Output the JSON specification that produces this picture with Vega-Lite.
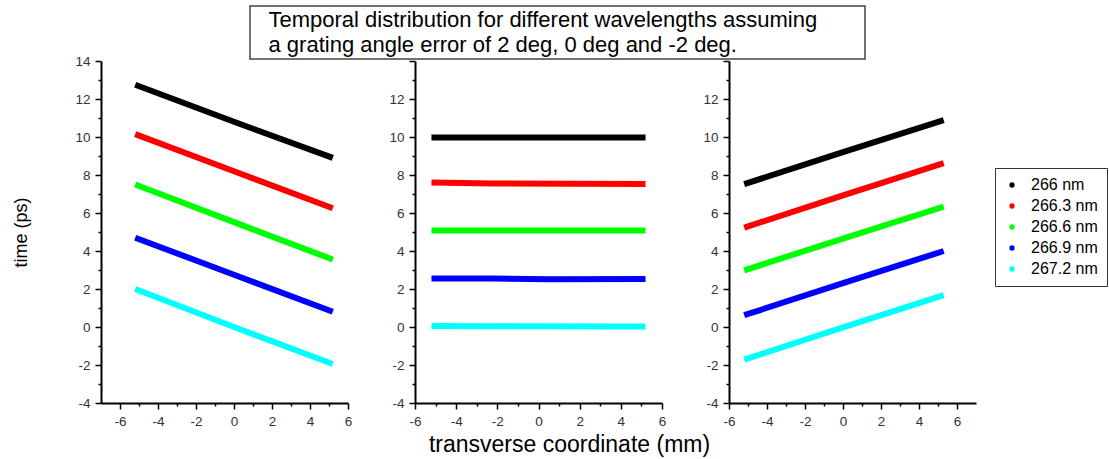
{
  "$schema": "https://vega.github.io/schema/vega-lite/v6.json",
  "padding": {"left": 12, "top": 5, "right": 0, "bottom": 0},
  "background": "white",
  "config": {
    "view": {"stroke": null},
    "font": "Liberation Sans",
    "axis": {
      "domainColor": "#000",
      "domainWidth": 2,
      "tickColor": "#000",
      "tickWidth": 1.5,
      "grid": false,
      "labelFont": "Liberation Sans",
      "labelFontSize": 13.5,
      "labelColor": "#333",
      "labelPadding": 5,
      "labelFlush": false,
      "labelOverlap": false,
      "titleFont": "Liberation Sans",
      "titleFontWeight": "normal",
      "titleColor": "#000"
    }
  },
  "datasets": {
    "heading": [
      {"line": 1, "text": "Temporal distribution for different wavelengths assuming"},
      {"line": 2, "text": "a grating angle error of 2 deg, 0 deg and -2 deg."}
    ],
    "lines": [
      {"panel": "A", "wl": "266 nm", "x": -5.2, "t": 12.75},
      {"panel": "A", "wl": "266 nm", "x": 0, "t": 10.8},
      {"panel": "A", "wl": "266 nm", "x": 5.2, "t": 8.9},
      {"panel": "A", "wl": "266.3 nm", "x": -5.2, "t": 10.15},
      {"panel": "A", "wl": "266.3 nm", "x": 0, "t": 8.2},
      {"panel": "A", "wl": "266.3 nm", "x": 5.2, "t": 6.25},
      {"panel": "A", "wl": "266.6 nm", "x": -5.2, "t": 7.5},
      {"panel": "A", "wl": "266.6 nm", "x": 0, "t": 5.52},
      {"panel": "A", "wl": "266.6 nm", "x": 5.2, "t": 3.55},
      {"panel": "A", "wl": "266.9 nm", "x": -5.2, "t": 4.7},
      {"panel": "A", "wl": "266.9 nm", "x": 0, "t": 2.75},
      {"panel": "A", "wl": "266.9 nm", "x": 5.2, "t": 0.8},
      {"panel": "A", "wl": "267.2 nm", "x": -5.2, "t": 2.0},
      {"panel": "A", "wl": "267.2 nm", "x": 0, "t": 0.0},
      {"panel": "A", "wl": "267.2 nm", "x": 5.2, "t": -1.95},

      {"panel": "B", "wl": "266 nm", "x": -5.2, "t": 9.97},
      {"panel": "B", "wl": "266 nm", "x": 0, "t": 9.98},
      {"panel": "B", "wl": "266 nm", "x": 5.2, "t": 9.98},
      {"panel": "B", "wl": "266.3 nm", "x": -5.2, "t": 7.6},
      {"panel": "B", "wl": "266.3 nm", "x": -2.2, "t": 7.55},
      {"panel": "B", "wl": "266.3 nm", "x": 5.2, "t": 7.52},
      {"panel": "B", "wl": "266.6 nm", "x": -5.2, "t": 5.08},
      {"panel": "B", "wl": "266.6 nm", "x": 0, "t": 5.08},
      {"panel": "B", "wl": "266.6 nm", "x": 5.2, "t": 5.08},
      {"panel": "B", "wl": "266.9 nm", "x": -5.2, "t": 2.55},
      {"panel": "B", "wl": "266.9 nm", "x": -2.2, "t": 2.55},
      {"panel": "B", "wl": "266.9 nm", "x": 0.5, "t": 2.51},
      {"panel": "B", "wl": "266.9 nm", "x": 5.2, "t": 2.53},
      {"panel": "B", "wl": "267.2 nm", "x": -5.2, "t": 0.05},
      {"panel": "B", "wl": "267.2 nm", "x": -2.6, "t": 0.04},
      {"panel": "B", "wl": "267.2 nm", "x": 5.2, "t": 0.02},

      {"panel": "C", "wl": "266 nm", "x": -5.2, "t": 7.52},
      {"panel": "C", "wl": "266 nm", "x": 0, "t": 9.2},
      {"panel": "C", "wl": "266 nm", "x": 5.3, "t": 10.89},
      {"panel": "C", "wl": "266.3 nm", "x": -5.2, "t": 5.23},
      {"panel": "C", "wl": "266.3 nm", "x": 0, "t": 6.93},
      {"panel": "C", "wl": "266.3 nm", "x": 5.3, "t": 8.62},
      {"panel": "C", "wl": "266.6 nm", "x": -5.2, "t": 2.98},
      {"panel": "C", "wl": "266.6 nm", "x": 0, "t": 4.65},
      {"panel": "C", "wl": "266.6 nm", "x": 5.3, "t": 6.33},
      {"panel": "C", "wl": "266.9 nm", "x": -5.2, "t": 0.62},
      {"panel": "C", "wl": "266.9 nm", "x": 0, "t": 2.31},
      {"panel": "C", "wl": "266.9 nm", "x": 5.3, "t": 4.0},
      {"panel": "C", "wl": "267.2 nm", "x": -5.2, "t": -1.72},
      {"panel": "C", "wl": "267.2 nm", "x": 0, "t": -0.02},
      {"panel": "C", "wl": "267.2 nm", "x": 5.3, "t": 1.68}
    ]
  },
  "spacing": -6,
  "center": false,
  "vconcat": [
    {
      "spacing": 0,
      "hconcat": [
        {
          "width": 148,
          "height": 53,
          "data": {"values": []},
          "mark": {"type": "text"},
          "encoding": {}
        },
        {
          "width": 615,
          "height": 53,
          "view": {"stroke": "#444", "strokeWidth": 1.5, "fill": "white"},
          "data": {"name": "heading"},
          "mark": {"type": "text", "align": "left", "baseline": "middle", "dx": -289, "fontSize": 22, "font": "Liberation Sans", "color": "#000"},
          "encoding": {
            "y": {"field": "line", "type": "ordinal", "axis": null, "scale": {"padding": 0.6}},
            "text": {"field": "text"}
          }
        }
      ]
    },
    {
      "spacing": 67,
      "bounds": "flush",
      "hconcat": [
        {
          "width": 247,
          "height": 342,
          "data": {"name": "lines"},
          "transform": [{"filter": "datum.panel === 'A'"}],
          "mark": {"type": "line", "strokeWidth": 6, "strokeCap": "butt"},
          "encoding": {
            "x": {
              "field": "x", "type": "quantitative",
              "scale": {"domain": [-7, 6], "nice": false, "zero": false},
              "axis": {
                "title": null,
                "values": [-6, -5, -4, -3, -2, -1, 0, 1, 2, 3, 4, 5, 6],
                "tickSize": {"condition": {"test": "datum.value % 2 !== 0", "value": 3}, "value": 6},
                "labelExpr": "datum.value % 2 === 0 ? '' + datum.value : ''"
              }
            },
            "y": {
              "field": "t", "type": "quantitative",
              "scale": {"domain": [-4, 14], "nice": false, "zero": false},
              "axis": {
                "title": "time (ps)",
                "titleFontSize": 18,
                "titlePadding": 44,
                "values": [-4, -3, -2, -1, 0, 1, 2, 3, 4, 5, 6, 7, 8, 9, 10, 11, 12, 13, 14],
                "tickSize": {"condition": {"test": "datum.value % 2 !== 0", "value": 3}, "value": 6},
                "labelExpr": "datum.value % 2 === 0 ? '' + datum.value : ''"
              }
            },
            "color": {
              "field": "wl", "type": "nominal",
              "scale": {
                "domain": ["266 nm", "266.3 nm", "266.6 nm", "266.9 nm", "267.2 nm"],
                "range": ["#000000", "#ff0000", "#00ff00", "#0000ff", "#00ffff"]
              },
              "legend": {
                "orient": "none",
                "legendX": 894,
                "legendY": 162,
                "title": null,
                "strokeColor": "#333",
                "fillColor": "#fff",
                "padding": 9,
                "symbolType": "circle",
                "symbolSize": 28,
                "symbolStrokeWidth": 0,
                "labelFontSize": 16,
                "labelFont": "Liberation Sans",
                "labelColor": "#000",
                "labelOffset": 11,
                "rowPadding": 5,
                "encode": {"symbols": {"update": {"fill": {"scale": "color", "field": "value"}}}}
              }
            }
          }
        },
        {
          "width": 247,
          "height": 342,
          "data": {"name": "lines"},
          "transform": [{"filter": "datum.panel === 'B'"}],
          "mark": {"type": "line", "strokeWidth": 6, "strokeCap": "butt"},
          "encoding": {
            "x": {
              "field": "x", "type": "quantitative",
              "scale": {"domain": [-6, 6], "nice": false, "zero": false},
              "axis": {
                "title": "transverse coordinate (mm)",
                "titleFontSize": 23,
                "titlePadding": 6,
                "titleX": 154,
                "values": [-6, -5, -4, -3, -2, -1, 0, 1, 2, 3, 4, 5, 6],
                "tickSize": {"condition": {"test": "datum.value % 2 !== 0", "value": 3}, "value": 6},
                "labelExpr": "datum.value % 2 === 0 ? '' + datum.value : ''"
              }
            },
            "y": {
              "field": "t", "type": "quantitative",
              "scale": {"domain": [-4, 14], "nice": false, "zero": false},
              "axis": {
                "title": null,
                "values": [-4, -3, -2, -1, 0, 1, 2, 3, 4, 5, 6, 7, 8, 9, 10, 11, 12, 13, 14],
                "tickSize": {"condition": {"test": "datum.value % 2 !== 0", "value": 3}, "value": 6},
                "labelExpr": "datum.value % 2 === 0 && datum.value < 14 ? '' + datum.value : ''"
              }
            },
            "color": {"field": "wl", "type": "nominal"}
          }
        },
        {
          "width": 247,
          "height": 342,
          "data": {"name": "lines"},
          "transform": [{"filter": "datum.panel === 'C'"}],
          "mark": {"type": "line", "strokeWidth": 6, "strokeCap": "butt"},
          "encoding": {
            "x": {
              "field": "x", "type": "quantitative",
              "scale": {"domain": [-6, 7], "nice": false, "zero": false},
              "axis": {
                "title": null,
                "values": [-6, -5, -4, -3, -2, -1, 0, 1, 2, 3, 4, 5, 6],
                "tickSize": {"condition": {"test": "datum.value % 2 !== 0", "value": 3}, "value": 6},
                "labelExpr": "datum.value % 2 === 0 ? '' + datum.value : ''"
              }
            },
            "y": {
              "field": "t", "type": "quantitative",
              "scale": {"domain": [-4, 14], "nice": false, "zero": false},
              "axis": {
                "title": null,
                "values": [-4, -3, -2, -1, 0, 1, 2, 3, 4, 5, 6, 7, 8, 9, 10, 11, 12, 13, 14],
                "tickSize": {"condition": {"test": "datum.value % 2 !== 0", "value": 3}, "value": 6},
                "labelExpr": "datum.value % 2 === 0 && datum.value < 14 ? '' + datum.value : ''"
              }
            },
            "color": {"field": "wl", "type": "nominal"}
          }
        }
      ]
    }
  ]
}
